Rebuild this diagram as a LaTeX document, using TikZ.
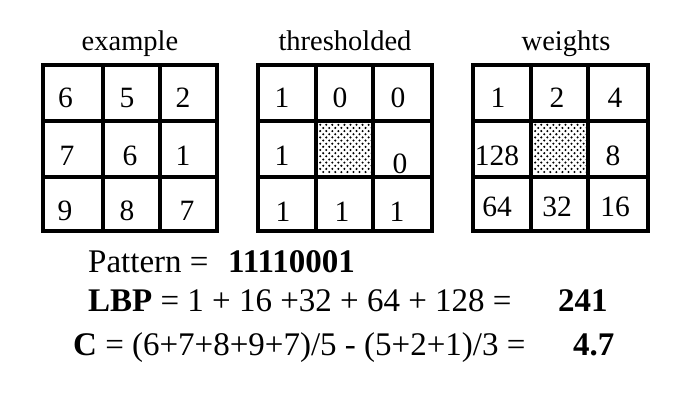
\documentclass[tikz,border=0pt]{standalone}
\usepackage{fontspec}
\setmainfont{Liberation Serif}
\begin{document}
\begin{tikzpicture}[x=1pt,y=-1pt,
  gridline/.style={line width=3.6pt},
  gridborder/.style={line width=4.2pt},
  num/.style={inner sep=0pt,anchor=center,font=\fontsize{29.5}{32}\selectfont},
  ttl/.style={inner sep=0pt,anchor=base,font=\fontsize{28.5}{32}\selectfont},
  txt/.style={inner sep=0pt,anchor=base west,font=\fontsize{33}{36}\selectfont}]
\useasboundingbox (0,0) rectangle (675,401);
% titles
\node[ttl] (t1) at (130,51) {example};
\node[ttl] (t2) at (345,51) {thresholded};
\node[ttl] (t3) at (566,51) {weights};
% shaded centres
\foreach \xo in {318, 533}{
  \foreach \j [evaluate=\j as \off using {mod(\j,2)*3}] in {0,...,15}{
    \foreach \i in {0,...,8}{
      \fill (\xo+2.2+\off+\i*6.05,124.8+\j*3.15) circle (1.15);
    }
  }
}
% grid 1
\draw[gridline] (103,65) -- (103,231) (160,65) -- (160,231)
  (43,121) -- (217,121) (43,177) -- (217,177);
\draw[gridborder] (43,65) rectangle (217,231);
% grid 2
\draw[gridline] (316,65) -- (316,231) (373,65) -- (373,231)
  (258,121) -- (432,121) (258,177) -- (432,177);
\draw[gridborder] (258,65) rectangle (432,231);
% grid 3
\draw[gridline] (531,65) -- (531,231) (588,65) -- (588,231)
  (473,121) -- (648,121) (473,177) -- (648,177);
\draw[gridborder] (473,65) rectangle (648,231);
% grid 1 numbers
\node[num] (a11) at (65.5,98) {6};
\node[num] (a12) at (127,98) {5};
\node[num] (a13) at (183,98) {2};
\node[num] (a21) at (67,156) {7};
\node[num] (a22) at (130,156) {6};
\node[num] (a23) at (183,156) {1};
\node[num] (a31) at (65,211) {9};
\node[num] (a32) at (127,211) {8};
\node[num] (a33) at (187,211) {7};
% grid 2 numbers
\node[num] (b11) at (282,98) {1};
\node[num] (b12) at (340,98) {0};
\node[num] (b13) at (398,98) {0};
\node[num] (b21) at (282,156) {1};
\node[num] (b23) at (400,164) {0};
\node[num] (b31) at (283,212) {1};
\node[num] (b32) at (342,212) {1};
\node[num] (b33) at (397,212) {1};
% grid 3 numbers
\node[num] (c11) at (498,98) {1};
\node[num] (c12) at (557,98) {2};
\node[num] (c13) at (615,98) {4};
\node[num] (c21) at (497,156) {128};
\node[num] (c23) at (613,156) {8};
\node[num] (c31) at (497,207) {64};
\node[num] (c32) at (557,207) {32};
\node[num] (c33) at (615,207) {16};
% bottom lines
\node[txt] (p1) at (88,272) {Pattern =};
\node[txt] (p2) at (228,272) {\bfseries 11110001};
\node[txt] (l1) at (88,311) {\bfseries LBP\mdseries{} = 1 + 16 +32 + 64 + 128 =};
\node[txt] (l2) at (558,311) {\bfseries 241};
\node[txt] (c1) at (73,355) {\bfseries C\mdseries{} = (6+7+8+9+7)/5 - (5+2+1)/3 =};
\node[txt] (c2) at (573,355) {\bfseries 4.7};
\end{tikzpicture}
\end{document}
